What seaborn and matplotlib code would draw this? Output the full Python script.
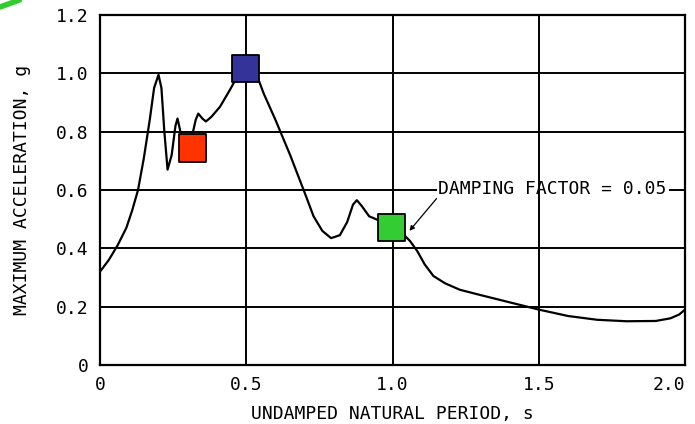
import seaborn as sns
import matplotlib.pyplot as plt
import pandas as pd

# response spectrum
period = [0.0, 0.03, 0.06, 0.09, 0.11, 0.13, 0.15, 0.17, 0.185, 0.2, 0.21, 0.22, 0.231,
          0.245, 0.258, 0.265, 0.275, 0.29, 0.305, 0.317, 0.327, 0.336, 0.35, 0.362, 0.38,
          0.41, 0.444, 0.47, 0.5, 0.53, 0.56, 0.6, 0.65, 0.7, 0.73, 0.76, 0.79, 0.82, 0.845,
          0.865, 0.878, 0.895, 0.92, 0.95, 0.98, 1.0, 1.03, 1.06, 1.085, 1.11, 1.14, 1.18,
          1.23, 1.3, 1.4, 1.5, 1.6, 1.7, 1.8, 1.9, 1.95, 1.98, 2.0]
accel = [0.32, 0.36, 0.41, 0.47, 0.53, 0.60, 0.71, 0.84, 0.95, 0.995, 0.95, 0.80, 0.67,
         0.72, 0.82, 0.845, 0.80, 0.76, 0.77, 0.795, 0.84, 0.862, 0.845, 0.835, 0.85,
         0.885, 0.943, 0.99, 1.03, 1.01, 0.93, 0.84, 0.72, 0.59, 0.51, 0.46, 0.435, 0.445, 0.49,
         0.55, 0.565, 0.545, 0.51, 0.497, 0.485, 0.475, 0.455, 0.425, 0.39, 0.345, 0.305, 0.28,
         0.258, 0.24, 0.215, 0.19, 0.168, 0.155, 0.15, 0.151, 0.16, 0.173, 0.19]

# highlighted squares
sq_period = [0.315, 0.498, 0.998]
sq_accel = [0.744, 1.017, 0.473]
sq_name = ["red", "blue", "green"]
sq_colors = {"red": "#ff3300", "blue": "#333399", "green": "#33cc33"}

x_ticks = [0, 0.5, 1.0, 1.5, 2.0]
x_labels = ["0", "0.5", "1.0", "1.5", "2.0"]
y_ticks = [0, 0.2, 0.4, 0.6, 0.8, 1.0, 1.2]
y_labels = ["0", "0.2", "0.4", "0.6", "0.8", "1.0", "1.2"]

sns.set_style("white")
plt.rcParams['font.family'] = ['DejaVu Sans Mono']
plt.rcParams['text.color'] = 'black'
plt.rcParams['axes.labelcolor'] = 'black'
plt.rcParams['xtick.color'] = 'black'
plt.rcParams['ytick.color'] = 'black'

fig = plt.figure(figsize=(6.95, 4.24), dpi=100)
ax = fig.add_axes([100/695, 1-365/424, 585/695, 350/424])

df = pd.DataFrame({"period": period, "accel": accel})
sns.lineplot(data=df, x="period", y="accel", color="black", lw=1.6, ax=ax, zorder=2.5)

sq = pd.DataFrame({"period": sq_period, "accel": sq_accel, "name": sq_name})
sns.scatterplot(data=sq, x="period", y="accel", hue="name", palette=sq_colors, marker="s",
                s=380, edgecolor="black", linewidth=1.3, legend=False, ax=ax, zorder=5)

for yv in y_ticks[1:-1]:
    ax.axhline(yv, color="black", lw=1.4, zorder=1)
for xv in x_ticks[1:-1]:
    ax.axvline(xv, color="black", lw=1.4, zorder=4)

ax.annotate("DAMPING FACTOR = 0.05", xy=(1.058, 0.46), xytext=(1.157, 0.603),
            fontsize=13, va="center", ha="left", zorder=3,
            bbox=dict(boxstyle="square,pad=0.1", fc="white", ec="none"),
            arrowprops=dict(arrowstyle="-|>", color="black", lw=0.9, mutation_scale=7,
                            shrinkA=0, shrinkB=0, relpos=(0, 0.1)))

ax.set(xlim=(0, 2.0), ylim=(0, 1.2))
ax.set_xticks(x_ticks, x_labels)
ax.set_yticks(y_ticks, y_labels)
ax.tick_params(length=0, labelsize=13, pad=8)
ax.get_xticklabels()[-1].set_ha("right")
ax.set_xlabel("UNDAMPED NATURAL PERIOD, s", fontsize=13, labelpad=8)
ax.set_ylabel("MAXIMUM ACCELERATION, g", fontsize=13, labelpad=18)
for s in ax.spines.values():
    s.set_color("black")
    s.set_linewidth(1.6)

# green smudge in the top left corner
fig.add_artist(plt.Line2D([0, 0.028], [1-7/424, 1.0], color="#33cc33", lw=4,
                          transform=fig.transFigure))

fig.savefig("out.png")
